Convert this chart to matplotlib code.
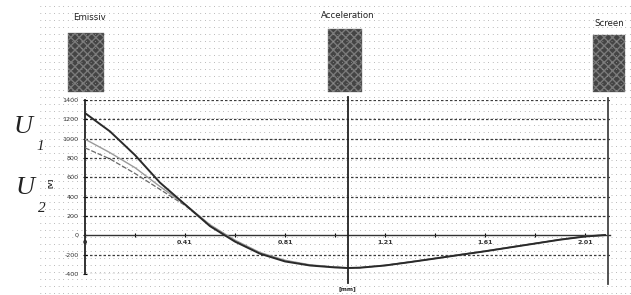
import matplotlib
matplotlib.use("Agg")
import matplotlib.pyplot as plt
from matplotlib.patches import Rectangle
import numpy as np

# distance along the device and potential values
x_pos = [0.0, 0.1, 0.2, 0.3, 0.4, 0.5, 0.6, 0.7, 0.8, 0.9, 1.0, 1.05, 1.1,
         1.2, 1.3, 1.4, 1.5, 1.6, 1.7, 1.8, 1.9, 2.0, 2.08]
u1 = [1265, 1075, 830, 545, 320, 95, -65, -190, -270, -312, -332, -338, -335,
      -312, -277, -240, -202, -165, -125, -85, -45, -12, 3]
u2_grey = [995, 855, 700, 505, 320, 110, -50, -178, -258, -305, -328, -335, -333,
           -310, -275, -238, -200, -163, -123, -84, -44, -11, 3]
u2_dash = [905, 790, 640, 475, 310, 105, -55, -182, -262, -308, -330, -336, -334,
           -311, -276, -239, -201, -164, -124, -84, -44, -11, 3]

x_tick_pos = [0.0, 0.4, 0.8, 1.2, 1.6, 2.0]
x_tick_labels = ["0", "0.41", "0.81", "1.21", "1.61", "2.01"]
y_ticks = [-400, -200, 0, 200, 400, 600, 800, 1000, 1200, 1400]
electrodes = ["Emissiv", "Acceleration", "Screen"]
electrode_x = [0.02, 1.05, 2.09]

W, H = 631, 295
fig = plt.figure(figsize=(W / 100, H / 100), dpi=100)

# background: scanned dotted paper + electrode blocks (pixel coordinates)
bg = fig.add_axes([0, 0, 1, 1], zorder=-1)
bg.set_xlim(0, W)
bg.set_ylim(H, 0)
bg.axis("off")
for yy in np.arange(6, H, 7):
    bg.plot([40, W], [yy, yy], color="#9c9c9c", lw=0.7,
            linestyle=(0, (0.7, 4.0)))

blocks = [(68, 33, 36, 59), (328, 29, 34, 63), (593, 35, 32, 57)]
label_xy = [(90, 17), (348, 16), (609, 23)]
for (bx, by, bw, bh), (tx, ty), name in zip(blocks, label_xy, electrodes):
    bg.add_patch(Rectangle((bx, by), bw, bh, facecolor="#444444",
                           edgecolor="#7a7a7a", hatch="xxxx", lw=0.3))
    bg.text(tx, ty, name, fontsize=6.2, ha="center", va="center",
            color="#222222", family="DejaVu Sans")

serif = "Liberation Serif"
bg.text(14, 127, "U", fontsize=19, style="italic", family=serif,
        ha="left", va="center", color="#222222")
bg.text(36, 147, "1", fontsize=11, style="italic", family=serif,
        ha="left", va="center", color="#222222")
bg.text(16, 188, "U", fontsize=19, style="italic", family=serif,
        ha="left", va="center", color="#222222")
bg.text(38, 208, "2", fontsize=11, style="italic", family=serif,
        ha="left", va="center", color="#222222")
bg.text(50, 183, "[V]", fontsize=4.5, rotation=90, ha="center", va="center",
        fontweight="bold", color="#333333")

# main chart area
ax = fig.add_axes([85 / W, 1 - 274 / H, 525 / W, 174 / H])
ax.patch.set_alpha(0)
ax.set_xlim(0, 2.1)
ax.set_ylim(-400, 1400)

for yv in y_ticks:
    if yv != 0:
        ax.axhline(yv, color="#3c3c3c", lw=0.9, linestyle=(0, (2, 1.6)), zorder=1)

ax.plot(x_pos, u2_dash, color="#6a6a6a", lw=0.9, linestyle=(0, (4, 1.5)), zorder=3)
ax.plot(x_pos, u2_grey, color="#9a9a9a", lw=1.0, zorder=3)
ax.plot(x_pos, u1, color="#2a2a2a", lw=1.4, zorder=4)

ax.axvline(electrode_x[1], ymin=-0.05, ymax=1.015, color="#222222", lw=1.3,
           clip_on=False, zorder=5)
ax.axvline(electrode_x[2], ymin=-0.06, ymax=1.01, color="#444444", lw=1.3,
           clip_on=False, zorder=5)

for side in ["top", "right"]:
    ax.spines[side].set_visible(False)
ax.spines["left"].set_color("#222222")
ax.spines["left"].set_linewidth(1.3)
ax.spines["bottom"].set_position(("data", 0))
ax.spines["bottom"].set_color("#333333")
ax.spines["bottom"].set_linewidth(1.0)

ax.set_yticks(y_ticks)
ax.set_yticklabels([str(v) for v in y_ticks], fontsize=4.6, color="#333333")
ax.tick_params(axis="y", direction="inout", length=3, width=0.8, pad=3)
ax.set_xticks(x_tick_pos)
ax.set_xticklabels(x_tick_labels, fontsize=4.6, color="#333333", fontweight="bold")
ax.set_xticks(np.arange(0, 2.1, 0.2), minor=True)
ax.tick_params(axis="x", which="both", direction="inout", length=3, width=0.8, pad=2)

ax.text(1.05, -0.085, "[mm]", transform=ax.get_xaxis_transform(), fontsize=4.2,
        ha="center", va="center", fontweight="bold", color="#222222",
        clip_on=False)

fig.savefig("out.png", dpi=100)
